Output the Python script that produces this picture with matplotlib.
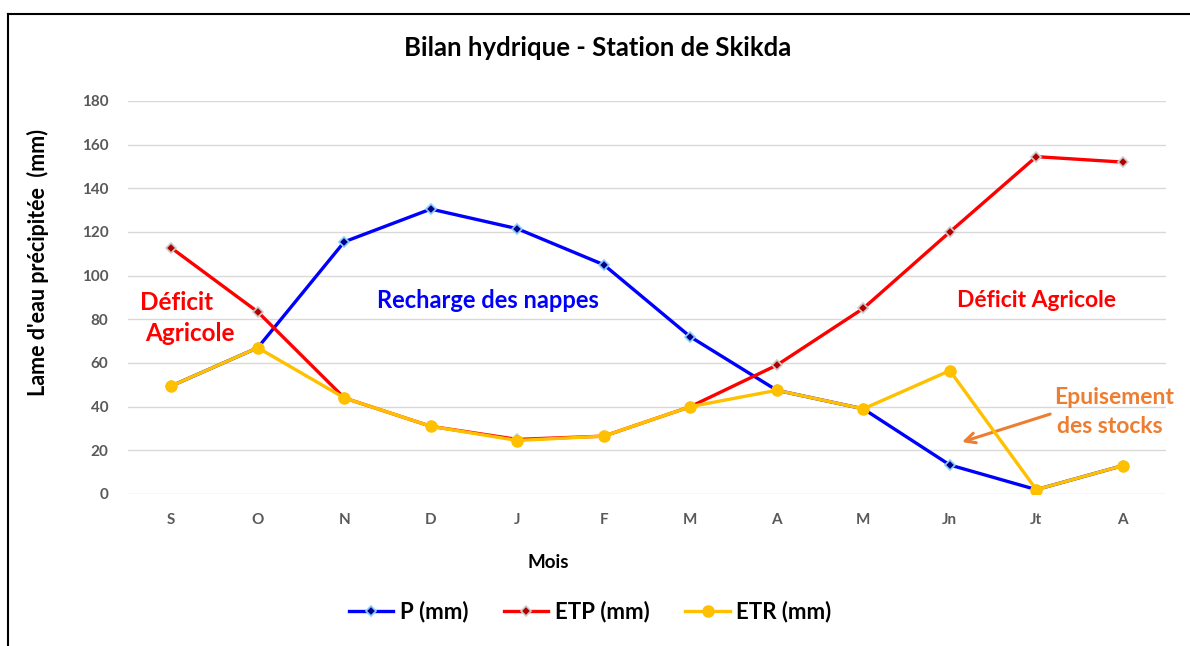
import matplotlib
matplotlib.use("Agg")
import matplotlib.pyplot as plt
from matplotlib.lines import Line2D

plt.rcParams['font.family'] = ['Lato', 'DejaVu Sans']

mois = ['S', 'O', 'N', 'D', 'J', 'F', 'M', 'A', 'M', 'Jn', 'Jt', 'A']
p_mm = [49.5, 67, 115.5, 130.5, 121.5, 105, 72, 47.5, 39, 13.3, 2, 13]
etp_mm = [112.7, 83.4, 44, 31, 25, 26.5, 40, 59, 85, 120, 154.5, 152]
etr_mm = [49.5, 67, 44, 31, 24.5, 26.5, 40, 47.5, 39, 56.5, 2, 13]
yticks = [0, 20, 40, 60, 80, 100, 120, 140, 160, 180]

fig = plt.figure(figsize=(11.9, 6.46), dpi=100)
ax = fig.add_axes([0.1076, 0.2353, 0.8723, 0.6084])
x = list(range(len(mois)))

ax.plot(x, p_mm, color='#0000FF', lw=2.4, marker='D', ms=5,
        mfc='#00008B', mec='#87CEFA', mew=1.2, label='P (mm)', zorder=3)
ax.plot(x, etp_mm, color='#FF0000', lw=2.4, marker='D', ms=5,
        mfc='#B00000', mec='#CCCCCC', mew=1.2, label='ETP (mm)', zorder=4)
ax.plot(x, etr_mm, color='#FFC000', lw=2.4, marker='o', ms=8,
        mfc='#FFC000', mec='#FFC000', label='ETR (mm)', zorder=5)

ax.set_xlim(-0.5, 11.5)
ax.set_ylim(0, 180)
ax.set_yticks(yticks)
ax.set_xticks(x)
ax.set_xticklabels(mois)
ax.grid(axis='y', color='#D9D9D9', lw=1)
ax.set_axisbelow(True)
for s in ax.spines.values():
    s.set_visible(False)
ax.tick_params(length=0, labelsize=11, labelcolor='#595959')
ax.tick_params(axis='y', pad=14)
ax.tick_params(axis='x', pad=14)
for lab in ax.get_xticklabels() + ax.get_yticklabels():
    lab.set_fontweight('bold')

fig.text(0.5025, 0.926, 'Bilan hydrique - Station de Skikda', ha='center', va='center',
         fontsize=18.5, fontweight='bold')
fig.text(0.032, 0.594, "Lame d'eau précipitée  (mm)", rotation=90, ha='center', va='center',
         fontsize=15.5, fontweight='bold')
fig.text(0.461, 0.13, 'Mois', ha='center', va='center', fontsize=13.5, fontweight='bold')

ax.text(0.056, 87.5, 'Déficit', color='#FF0000', fontsize=17.5, fontweight='bold', ha='center', va='center')
ax.text(0.22, 73.7, 'Agricole', color='#FF0000', fontsize=17.5, fontweight='bold', ha='center', va='center')
ax.text(3.66, 88.4, 'Recharge des nappes', color='#0000FF', fontsize=17, fontweight='bold',
        ha='center', va='center')
ax.text(10.0, 88.4, 'Déficit Agricole', color='#FF0000', fontsize=16.5, fontweight='bold',
        ha='center', va='center')
ax.text(10.9, 44.4, 'Epuisement', color='#ED7D31', fontsize=16.5, fontweight='bold', ha='center', va='center')
ax.text(10.85, 30.7, 'des stocks', color='#ED7D31', fontsize=16.5, fontweight='bold', ha='center', va='center')
ax.annotate('', xy=(9.14, 23.8), xytext=(10.16, 36.6),
            arrowprops=dict(arrowstyle='->', color='#ED7D31', lw=2.2, mutation_scale=18,
                            shrinkA=0, shrinkB=0))

leg = fig.legend(loc='center', bbox_to_anchor=(0.496, 0.053), ncol=3, frameon=False,
                 prop={'weight': 'bold', 'size': 16}, handlelength=2.0, handletextpad=0.3,
                 columnspacing=1.6)

fig.add_artist(Line2D([0.0067, 0.0067], [0, 0.978], color='black', lw=1.5))
fig.add_artist(Line2D([0.0067, 1], [0.978, 0.978], color='black', lw=1.5))

fig.savefig('out.png', dpi=100)
